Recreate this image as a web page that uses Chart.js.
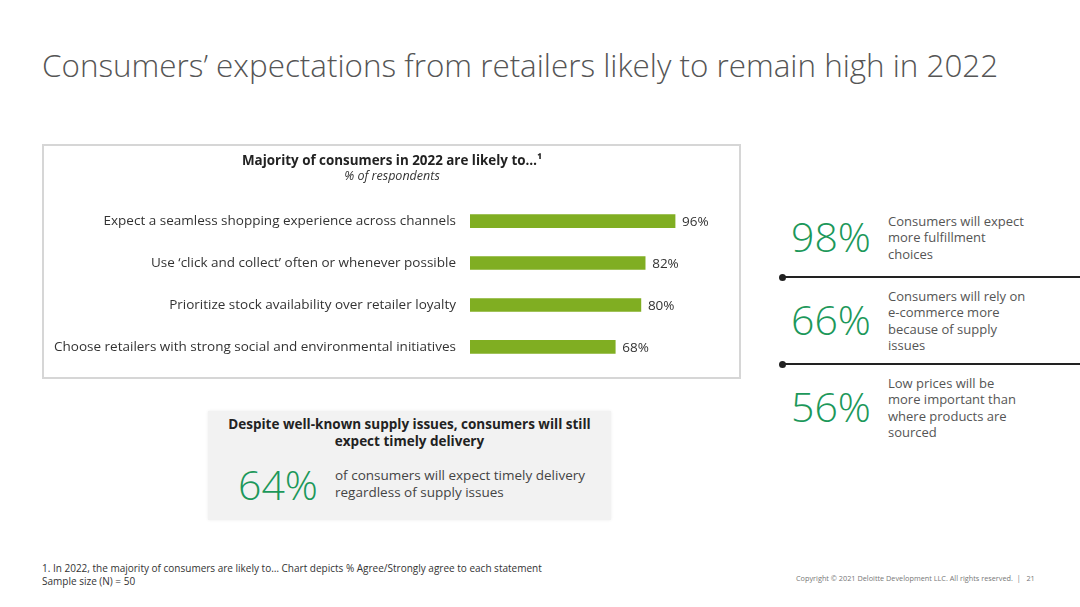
<!DOCTYPE html>
<html>
<head>
<meta charset="utf-8">
<script src="https://cdn.jsdelivr.net/npm/chart.js@4.4.0/dist/chart.umd.min.js"></script>
<style>
  html,body{margin:0;padding:0;background:#fff;}
  body{width:1080px;height:607px;position:relative;overflow:hidden;font-family:"Open Sans",sans-serif;color:#333;}
  .abs{position:absolute;}
  #title{left:42px;top:43px;font-size:31.4px;font-weight:300;color:#555;white-space:nowrap;}
  #chartBox{left:42px;top:144px;width:695px;height:231px;border:2px solid #d6d6d6;}
  #chartWrap{left:44px;top:146px;width:696px;height:244px;}
  .big{font-size:41px;font-weight:300;color:#1c985a;line-height:1;}
  .stat-txt{font-size:13px;line-height:16.3px;color:#555;}
  .rule{height:2px;background:#222;}
  .dot{width:7px;height:7px;border-radius:50%;background:#222;}
  #callout{left:208px;top:411px;width:403px;height:109px;background:#f2f2f2;box-shadow:0 0 3px rgba(0,0,0,0.08);}
  #callTitle{left:208px;top:416px;width:403px;text-align:center;font-size:13.5px;font-weight:700;line-height:17px;color:#222;}
  #callTxt{left:335px;top:467px;font-size:13.5px;line-height:17px;color:#444;}
  #foot{left:42px;top:562px;font-size:10px;line-height:12.5px;color:#333;}
  #copy{left:796px;top:573px;font-size:7.3px;color:#777;white-space:nowrap;}
</style>
</head>
<body>
<div id="title" class="abs">Consumers’ expectations from retailers likely to remain high in 2022</div>
<div id="chartBox" class="abs"></div>
<div id="chartWrap" class="abs"><canvas id="barChart"></canvas></div>

<div id="stats"></div>

<div id="callout" class="abs"></div>
<div id="callTitle" class="abs">Despite well-known supply issues, consumers will still<br>expect timely delivery</div>
<div id="callNum" class="abs big" style="left:238px;top:464px;">64%</div>
<div id="callTxt" class="abs">of consumers will expect timely delivery<br>regardless of supply issues</div>

<div id="foot" class="abs">1. In 2022, the majority of consumers are likely to… Chart depicts % Agree/Strongly agree to each statement<br>Sample size (N) = 50</div>
<div id="copy" class="abs">Copyright © 2021 Deloitte Development LLC. All rights reserved. &nbsp;| &nbsp; 21</div>

<script>
// bar chart data
const categories = [
  'Expect a seamless shopping experience across channels',
  'Use ‘click and collect’ often or whenever possible',
  'Prioritize stock availability over retailer loyalty',
  'Choose retailers with strong social and environmental initiatives'
];
const shares = [96, 82, 80, 68];

// side stats
const statValues = ['98%', '66%', '56%'];
const statLabels = [
  ['Consumers will expect', 'more fulfillment', 'choices'],
  ['Consumers will rely on', 'e-commerce more', 'because of supply', 'issues'],
  ['Low prices will be', 'more important than', 'where products are', 'sourced']
];

// right column, drawn as plain text
const statTops = [214, 289, 376];
const statsEl = document.getElementById('stats');
statValues.forEach((v, i) => {
  const n = document.createElement('div');
  n.className = 'abs big';
  n.style.left = '791px';
  n.style.top = (statTops[i] + (statLabels[i].length === 3 ? 2 : 10)) + 'px';
  n.textContent = v;
  statsEl.appendChild(n);
  const t = document.createElement('div');
  t.className = 'abs stat-txt';
  t.style.left = '888px';
  t.style.top = (statTops[i] - 1) + 'px';
  t.innerHTML = statLabels[i].join('<br>');
  statsEl.appendChild(t);
});
[277, 364].forEach(y => {
  const r = document.createElement('div');
  r.className = 'abs rule';
  r.style.left = '782px'; r.style.width = '298px'; r.style.top = (y - 1) + 'px';
  statsEl.appendChild(r);
  const d = document.createElement('div');
  d.className = 'abs dot';
  d.style.left = '779px'; d.style.top = (y - 3.5) + 'px';
  statsEl.appendChild(d);
});

// value labels after each bar
const valueLabels = {
  id: 'valueLabels',
  afterDatasetsDraw(chart) {
    const ctx = chart.ctx;
    const meta = chart.getDatasetMeta(0);
    ctx.save();
    ctx.font = '13.5px "Open Sans"';
    ctx.fillStyle = '#333';
    ctx.textAlign = 'left';
    ctx.textBaseline = 'middle';
    meta.data.forEach((bar, i) => {
      ctx.fillText(shares[i] + '%', bar.x + 7, bar.y + 1);
    });
    ctx.restore();
  }
};

new Chart(document.getElementById('barChart'), {
  type: 'bar',
  data: {
    labels: categories,
    datasets: [{
      data: shares,
      backgroundColor: '#80ae22',
      barThickness: 13
    }]
  },
  options: {
    indexAxis: 'y',
    responsive: true,
    maintainAspectRatio: false,
    animation: false,
    layout: { padding: { left: 0, right: 0, top: 0, bottom: 9 } },
    plugins: {
      legend: { display: false },
      tooltip: { enabled: false },
      title: {
        display: true,
        text: 'Majority of consumers in 2022 are likely to…¹',
        color: '#222',
        font: { family: 'Open Sans', size: 13.4, weight: 'bold', lineHeight: 1.2 },
        padding: { top: 7, bottom: 0 }
      },
      subtitle: {
        display: true,
        text: '% of respondents',
        color: '#333',
        font: { family: 'Open Sans', size: 12.5, style: 'italic', lineHeight: 1.2 },
        padding: { top: 0, bottom: 16 }
      }
    },
    scales: {
      // leaves room on the right for the value labels
      x: { display: false, min: 0, max: 126.4 },
      y: {
        afterFit(scale) { scale.width = 426; },
        grid: { display: false, drawTicks: false },
        border: { display: false },
        ticks: {
          color: '#333',
          padding: 14,
          font: { family: 'Open Sans', size: 13.5 }
        }
      }
    }
  },
  plugins: [valueLabels]
});
</script>
</body>
</html>
